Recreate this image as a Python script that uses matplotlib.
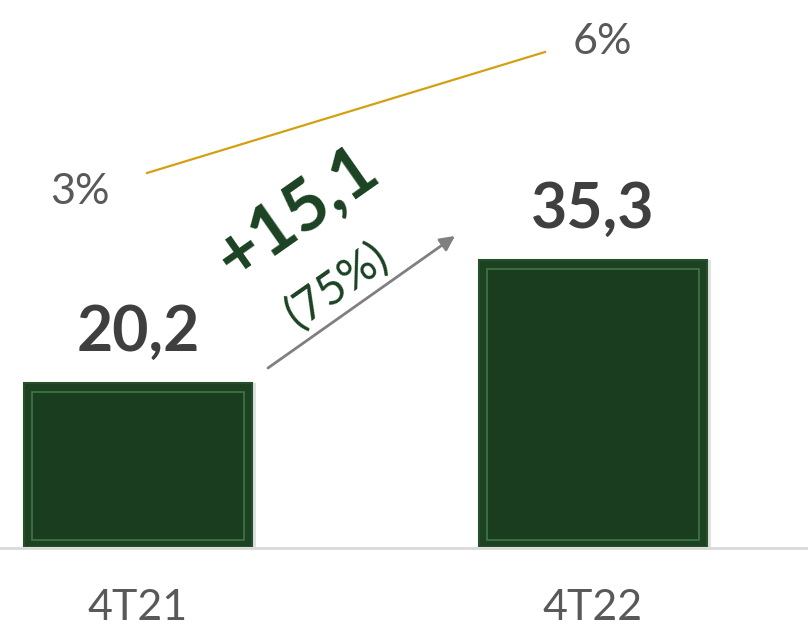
import matplotlib.pyplot as plt

categories = ['4T21', '4T22']
values = [20.2, 35.3]
value_labels = ['20,2', '35,3']
pct = [3, 6]
pct_labels = ['3%', '6%']
delta_label = '+15,1'
delta_pct_label = '(75%)'

plt.rcParams['font.family'] = ['Lato', 'DejaVu Sans']

W, H = 808, 630
fig = plt.figure(figsize=(W / 100, H / 100), dpi=100)

# main bar axes: bottom of bars at y=547px
ax = fig.add_axes([0, (H - 547) / H, 1, 547 / H])
ax.set_xlim(-0.303, 1.473)
ax.set_ylim(0, 67.2)
ax.axis('off')

x = range(len(categories))
# soft shadow
ax.bar([i + 0.004 for i in x], values, width=0.51, color='#000000', alpha=0.12, zorder=1)
ax.bar(x, values, width=0.5, color='#1C4221', edgecolor='#25502B', linewidth=1.5, zorder=2)
# bevel inner frame
inner = [v - 2.0 for v in values]
ax.bar(x, inner, width=0.465, bottom=0.9, color='#1A3C1F', edgecolor='#3F7648',
       linewidth=1.2, zorder=3)

for i, (v, lab) in enumerate(zip(values, value_labels)):
    ax.text(i, v + 2.5, lab, ha='center', va='bottom', fontsize=45,
            fontweight='bold', color='#3F3F3F')

# baseline
fig.add_artist(plt.Line2D([0, 1], [(H - 548) / H] * 2, color='#D9D9D9', lw=2))

for i, c in enumerate(categories):
    fig.text((138 + 455 * i) / W, 1 - 608 / H, c, ha='center', va='center',
             fontsize=31, color='#595959')

# percentage line
ax2 = fig.add_axes([147 / W, (H - 173) / H, (545 - 147) / W, (173 - 52) / H])
ax2.set_xlim(0, 1)
ax2.set_ylim(3, 6)
ax2.axis('off')
ax2.plot([0, 1], pct, color='#D4A012', lw=1.6, clip_on=False)
ax2.annotate(pct_labels[0], (0, pct[0]), xytext=(-48, -14), textcoords='offset points',
             ha='center', va='center', fontsize=31, color='#595959')
ax2.annotate(pct_labels[1], (1, pct[1]), xytext=(41, 7), textcoords='offset points',
             ha='center', va='center', fontsize=31, color='#595959')

# growth arrow and labels
ax.annotate('', xy=(455 / W, 1 - 236 / H), xytext=(268 / W, 1 - 368 / H),
            xycoords='figure fraction', textcoords='figure fraction',
            arrowprops=dict(arrowstyle='-|>', color='#808080', lw=2,
                            mutation_scale=22, shrinkA=0, shrinkB=0))
fig.text(297 / W, 1 - 213 / H, delta_label, ha='center', va='center', rotation=35,
         rotation_mode='anchor', fontsize=51, fontweight='bold', color='#1B4222')
fig.text(337 / W, 1 - 285 / H, delta_pct_label, ha='center', va='center', rotation=35,
         rotation_mode='anchor', fontsize=33, color='#1B4222')

fig.savefig('out.png', dpi=100)
